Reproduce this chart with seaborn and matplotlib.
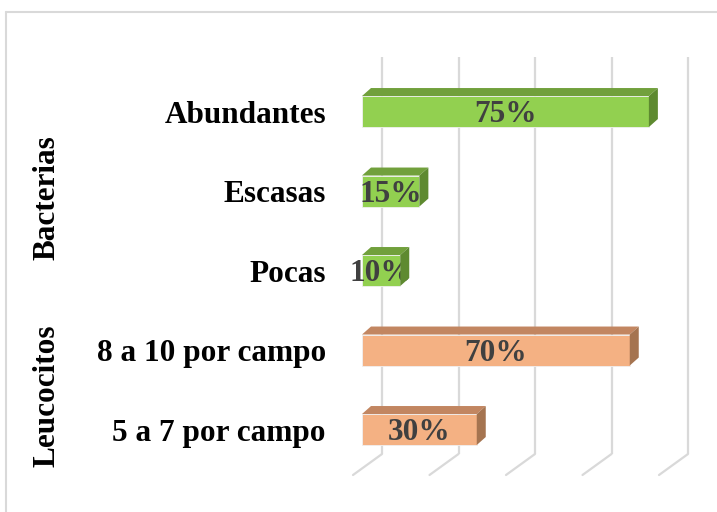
import numpy as np
import pandas as pd
import matplotlib
matplotlib.use("Agg")
import matplotlib.pyplot as plt
import matplotlib.transforms as mtransforms
from matplotlib.patches import Polygon
import seaborn as sns

categories = ["Abundantes", "Escasas", "Pocas", "8 a 10 por campo", "5 a 7 por campo"]
groups = ["Bacterias", "Bacterias", "Bacterias", "Leucocitos", "Leucocitos"]
values = [75, 15, 10, 70, 30]
grid_values = [0, 20, 40, 60, 80]

front_colors = {"Bacterias": "#92D050", "Leucocitos": "#F4B183"}
top_colors = {"Bacterias": "#71A03C", "Leucocitos": "#C28661"}
side_colors = {"Bacterias": "#5E8A30", "Leucocitos": "#A57450"}

df = pd.DataFrame({"Category": categories, "Group": groups, "Value": values})

sns.set_theme(style="white")
plt.rcParams["font.family"] = ["Liberation Serif", "DejaVu Serif"]

W, H, DPI = 717, 512, 100
fig = plt.figure(figsize=(W / DPI, H / DPI), dpi=DPI)
# axes in pixel terms: front plane x from 362 (0%) to 668 (80%), y from 57 to 475
ax = fig.add_axes([362 / W, 1 - 475 / H, 306 / W, 418 / H])

sns.barplot(data=df, x="Value", y="Category", hue="Group", palette=front_colors,
            dodge=False, width=0.39, legend=False, ax=ax, saturation=1,
            edgecolor="#F0F0F0", linewidth=0.6, zorder=3)

ax.set_xlim(0, 80)
ax.set_ylim(4.572, -0.686)
ax.set_xlabel("")
ax.set_ylabel("")
ax.set_xticks([])
for s in ax.spines.values():
    s.set_visible(False)
ax.tick_params(axis="y", length=0, pad=26)
for lab in ax.get_yticklabels():
    lab.set_fontsize(22.5)
    lab.set_fontweight("bold")
    lab.set_color("black")

# perspective gridlines (back wall + floor)
back = mtransforms.offset_copy(ax.transData, fig, x=20, y=0, units="dots")
y_wall_bottom = 4.308
for v in grid_values:
    ax.plot([v, v], [-0.686, y_wall_bottom], transform=back, color="#D9D9D9",
            lw=1.6, zorder=0, clip_on=False, solid_capstyle="butt")
    p0 = ax.transData.transform((v, y_wall_bottom)) + np.array([20, 0])
    p1 = ax.transData.transform((v, 4.572)) + np.array([-9, 0])
    ax.add_line(plt.Line2D([p0[0], p1[0]], [p0[1], p1[1]], transform=None,
                           color="#D9D9D9", lw=1.6, zorder=0, clip_on=False))

# 3D top and side faces
dx, dy = 9, 8
fig.canvas.draw()
for patch, grp, val in zip(ax.patches, groups, values):
    bb = patch.get_window_extent()
    x0, x1, yb, yt = bb.x0, bb.x1, bb.y0, bb.y1
    top = Polygon([(x0, yt), (x1, yt), (x1 + dx, yt + dy), (x0 + dx, yt + dy)],
                  closed=True, transform=None, facecolor=top_colors[grp],
                  edgecolor="none", zorder=4, clip_on=False)
    side = Polygon([(x1, yt), (x1, yb), (x1 + dx, yb + dy), (x1 + dx, yt + dy)],
                   closed=True, transform=None, facecolor=side_colors[grp],
                   edgecolor="none", zorder=4, clip_on=False)
    fig.add_artist(top)
    fig.add_artist(side)

# value labels
lab_tr = mtransforms.offset_copy(ax.transData, fig, x=0, y=-3, units="dots")
for patch, val in zip(ax.patches, values):
    cy = patch.get_y() + patch.get_height() / 2
    ax.text(val / 2, cy, f"{val}%", ha="center", va="center", fontsize=22.5,
            fontweight="bold", color="#404040", zorder=6, transform=lab_tr)

# group labels
blend = mtransforms.blended_transform_factory(fig.transFigure, ax.transData)
ax.text(47 / W, 1.08, "Bacterias", transform=blend, rotation=90, ha="center",
        va="center", fontsize=22.5, fontweight="bold", color="black", clip_on=False)
ax.text(47 / W, 3.57, "Leucocitos", transform=blend, rotation=90, ha="center",
        va="center", fontsize=22.5, fontweight="bold", color="black", clip_on=False)

# chart area border
fig.add_artist(plt.Line2D([6 / W, 1], [1 - 12 / H, 1 - 12 / H], transform=fig.transFigure,
                          color="#D9D9D9", lw=1.5))
fig.add_artist(plt.Line2D([6 / W, 6 / W], [0, 1 - 12 / H], transform=fig.transFigure,
                          color="#D9D9D9", lw=1.5))

fig.savefig("out.png", dpi=DPI)
